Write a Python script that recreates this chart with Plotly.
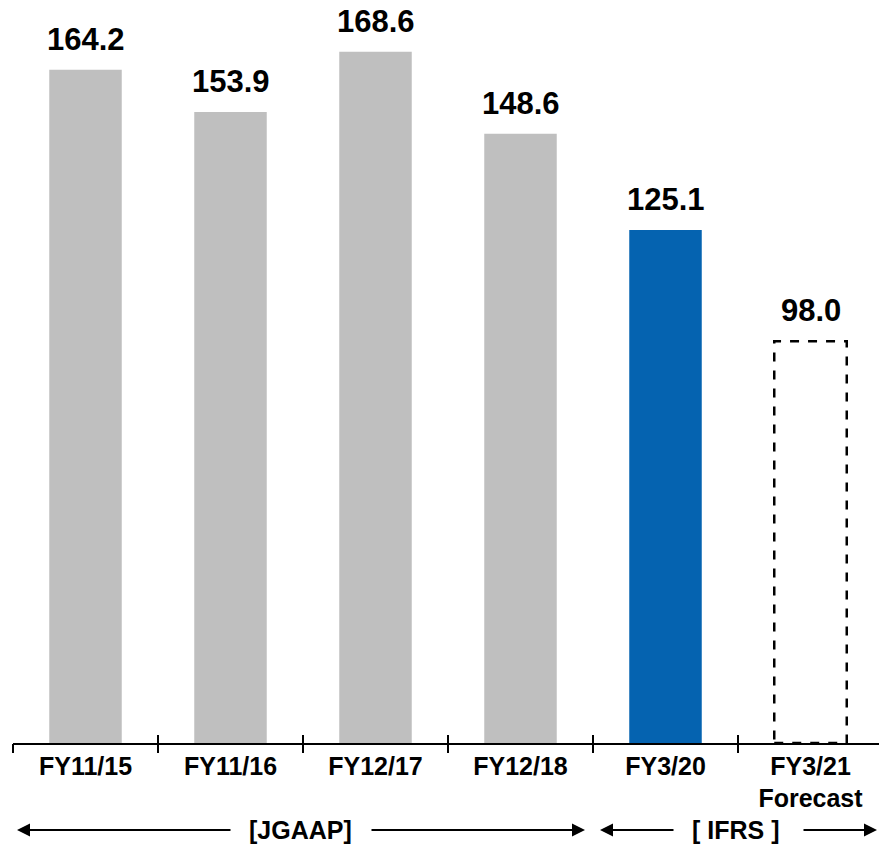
import plotly.graph_objects as go

# Net sales by fiscal year (values as printed on the chart)
categories = ["FY11/15", "FY11/16", "FY12/17", "FY12/18", "FY3/20", "FY3/21<br>Forecast"]
values = [164.2, 153.9, 168.6, 148.6, 125.1, 98.0]
bar_colors = ["#BFBFBF", "#BFBFBF", "#BFBFBF", "#BFBFBF", "#0563B0", "rgba(0,0,0,0)"]
forecast_idx = 5

W, H = 879, 847
AXIS_Y = 743
ML, MB = 13, H - AXIS_Y
plot_w = W - ML
cat_px = 145.0
x_range = [-0.5, -0.5 + plot_w / cat_px]
y_range = [0, AXIS_Y / 4.1]

FONT = "Arial, Liberation Sans, sans-serif"


def px_to_paper(px):
    return (px - ML) / plot_w


fig = go.Figure()
fig.add_trace(go.Bar(
    x=list(range(len(categories))),
    y=values,
    width=0.5,
    marker=dict(color=bar_colors, line=dict(width=0)),
    hoverinfo="skip",
))
# invisible traces so the tick-only axes get drawn
for ax in ["x2", "x3"]:
    fig.add_trace(go.Scatter(x=[0], y=[0], xaxis=ax, mode="markers",
                             marker=dict(opacity=0), hoverinfo="skip"))

# dashed outline for the forecast bar
fig.add_shape(
    type="rect", xref="x", yref="y",
    x0=forecast_idx - 0.25, x1=forecast_idx + 0.25,
    y0=0, y1=values[forecast_idx],
    line=dict(color="black", width=2.5, dash="dash"),
)

# value labels
for i, v in enumerate(values):
    fig.add_annotation(
        x=i, y=v, xref="x", yref="y",
        text="%.1f" % v, showarrow=False,
        yanchor="bottom", yshift=11,
        font=dict(family=FONT, size=31, color="black", weight="bold"),
    )

# accounting standard brackets under the axis
arrow_y = -(830 - AXIS_Y) / AXIS_Y
groups = [
    ("[JGAAP]", 300, 17, 232, 370, 585),
    ("[ IFRS ]", 736, 600, 675, 802, 877),
]
for label, cx, l_head, l_tail, r_tail, r_head in groups:
    fig.add_annotation(
        x=px_to_paper(cx), y=arrow_y, xref="paper", yref="paper",
        xanchor="center", yanchor="middle",
        text=label, showarrow=False,
        font=dict(family=FONT, size=25, color="black", weight="bold"),
    )
    for head, tail in [(l_head, l_tail), (r_head, r_tail)]:
        fig.add_annotation(
            x=px_to_paper(head), y=arrow_y, xref="paper", yref="paper",
            ax=tail - head, ay=0, axref="pixel", ayref="pixel",
            text="", showarrow=True, arrowhead=2, arrowsize=1.3,
            arrowwidth=2, arrowcolor="black", standoff=0,
        )

tick_bounds = [i - 0.5 for i in range(len(categories) + 1)]
fig.update_layout(
    width=W, height=H,
    margin=dict(l=ML, r=0, t=0, b=MB),
    paper_bgcolor="white", plot_bgcolor="white",
    showlegend=False,
    xaxis=dict(
        range=x_range,
        tickmode="array",
        tickvals=list(range(len(categories))),
        ticktext=["<b>%s</b>" % c for c in categories],
        showgrid=False, zeroline=False,
        showline=True, linecolor="black", linewidth=1.5,
        ticks="",
        tickfont=dict(family=FONT, size=25, color="black"),
        fixedrange=True,
    ),
    xaxis2=dict(
        overlaying="x", anchor="y", side="bottom",
        range=x_range, type="linear",
        tickmode="array", tickvals=tick_bounds,
        ticks="outside", ticklen=9, tickwidth=1.5, tickcolor="black",
        showticklabels=False, showgrid=False, zeroline=False, showline=False,
    ),
    xaxis3=dict(
        overlaying="x", anchor="y", side="bottom",
        range=x_range, type="linear",
        tickmode="array", tickvals=tick_bounds,
        ticks="inside", ticklen=8, tickwidth=1.5, tickcolor="black",
        showticklabels=False, showgrid=False, zeroline=False, showline=False,
    ),
    yaxis=dict(
        range=y_range, visible=False, fixedrange=True,
    ),
)

# drop the default page margin so the figure fills the window
fig.write_html("out.html", config={"displayModeBar": False},
               post_script="document.body.style.margin='0';")
